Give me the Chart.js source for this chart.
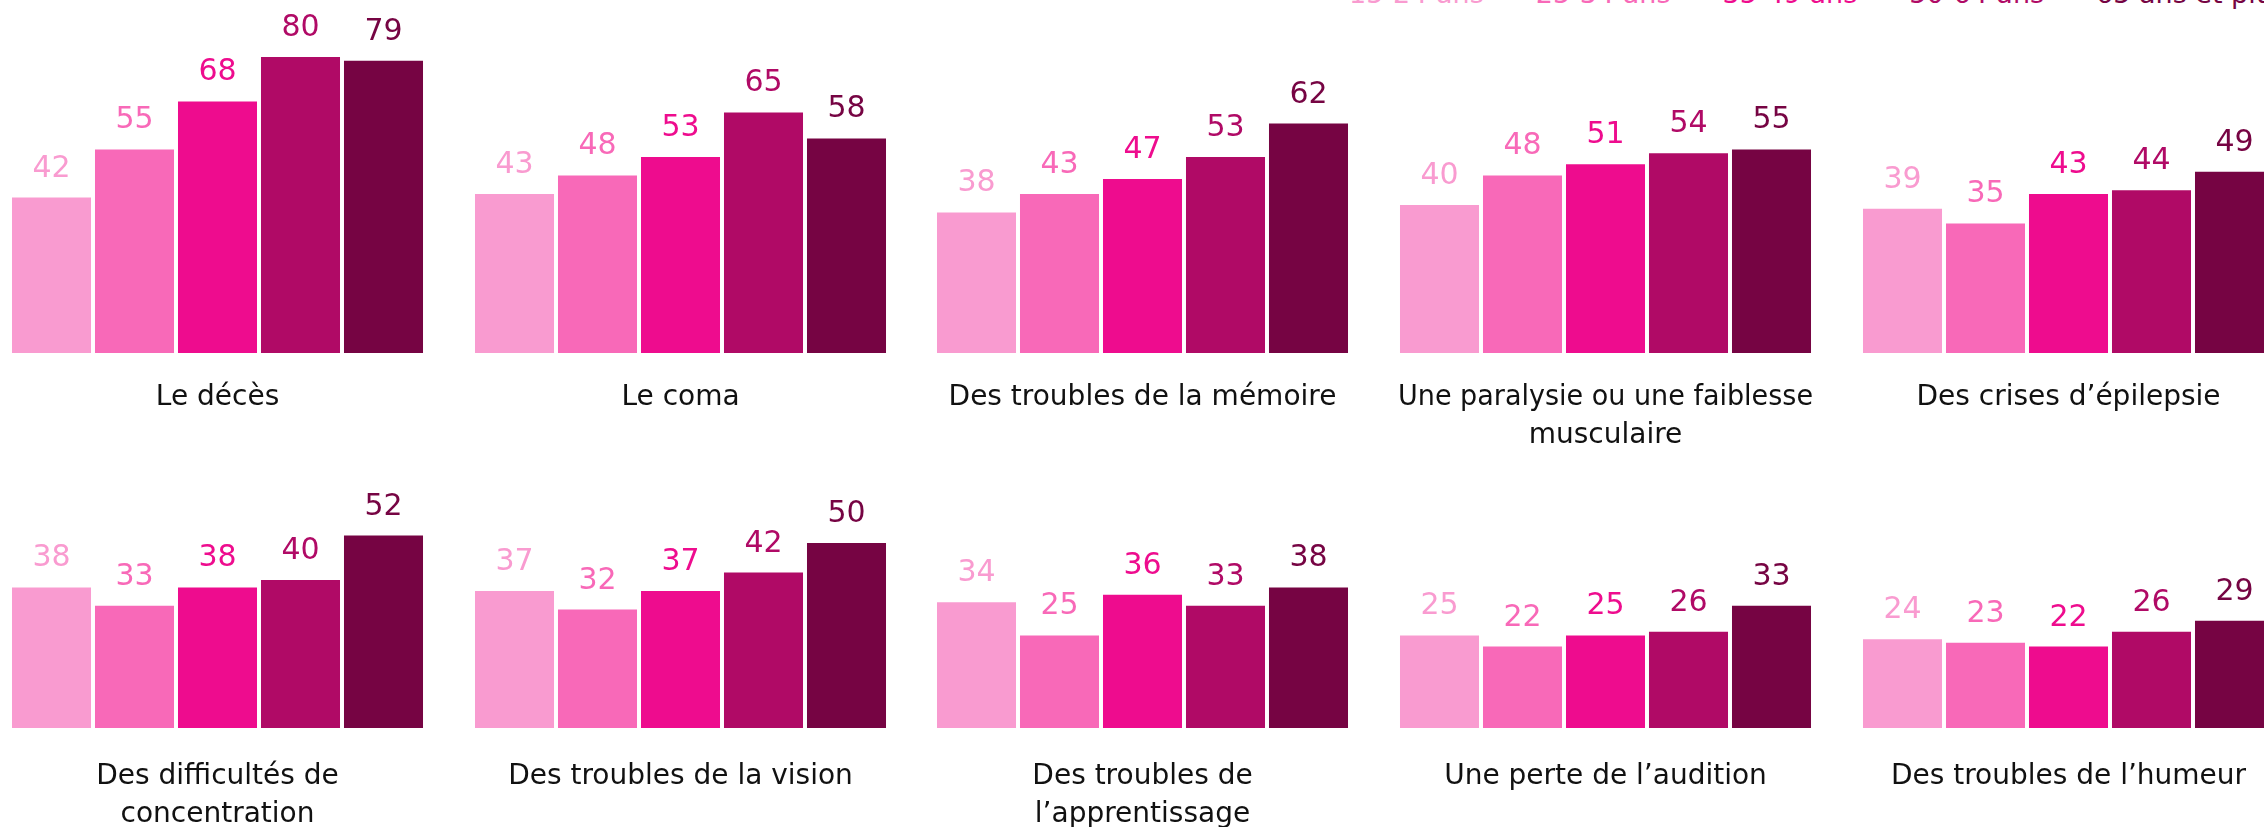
<!DOCTYPE html>
<html lang="fr">
<head>
<meta charset="utf-8">
<script src="https://cdn.jsdelivr.net/npm/chart.js@4.4.1/dist/chart.umd.min.js"></script>
<style>
    html, body { margin: 0; padding: 0; background: #fff; }
    body { width: 2264px; height: 827px; overflow: hidden; position: relative; font-family: "DejaVu Sans", sans-serif; }
    canvas { position: absolute; }
    #legend { position: absolute; left: 1349px; top: -20px; display: flex; gap: 52px; font-size: 27px; line-height: 28px; white-space: nowrap; }
</style>
</head>
<body>
<div id="legend"></div>
<script>
// Age groups (series) and their colours
const ageGroups = ['15-24 ans', '25-34 ans', '35-49 ans', '50-64 ans', '65 ans et plus'];
const ageColors = ['#F99BD0', '#F869B8', '#EE0C8E', '#B00A66', '#760443'];

// One small chart per category, two lines max for the title
const categories = [
    ['Le décès'],
    ['Le coma'],
    ['Des troubles de la mémoire'],
    ['Une paralysie ou une faiblesse', 'musculaire'],
    ['Des crises d’épilepsie'],
    ['Des difficultés de', 'concentration'],
    ['Des troubles de la vision'],
    ['Des troubles de', 'l’apprentissage'],
    ['Une perte de l’audition'],
    ['Des troubles de l’humeur']
];

// Values (%) by age group, in category order
const age15to24 = [42, 43, 38, 40, 39, 38, 37, 34, 25, 24];
const age25to34 = [55, 48, 43, 48, 35, 33, 32, 25, 22, 23];
const age35to49 = [68, 53, 47, 51, 43, 38, 37, 36, 25, 22];
const age50to64 = [80, 65, 53, 54, 44, 40, 42, 33, 26, 26];
const age65plus = [79, 58, 62, 55, 49, 52, 50, 38, 33, 29];

const seriesByAge = [age15to24, age25to34, age35to49, age50to64, age65plus];

// Legend (the top of it is cut off in the original)
const legend = document.getElementById('legend');
ageGroups.forEach((g, i) => {
    const span = document.createElement('span');
    span.textContent = g;
    span.style.color = ageColors[i];
    legend.appendChild(span);
});

// Draw the value above each bar
const valueLabels = {
    id: 'valueLabels',
    afterDatasetsDraw(chart) {
        const ctx = chart.ctx;
        const meta = chart.getDatasetMeta(0);
        ctx.save();
        ctx.font = '30px "DejaVu Sans"';
        ctx.textAlign = 'center';
        ctx.textBaseline = 'alphabetic';
        meta.data.forEach((bar, i) => {
            ctx.fillStyle = ageColors[i];
            ctx.fillText(chart.data.datasets[0].data[i], bar.x, bar.y - 21);
        });
        ctx.restore();
    }
};

const panelStep = 462.7;
const rows = [
    { top: 0, titlePad: 26 },
    { top: 375, titlePad: 30 }
];
const lineH = 28 * 1.34;

categories.forEach((title, c) => {
    const row = rows[Math.floor(c / 5)];
    const col = c % 5;
    const canvas = document.createElement('canvas');
    const w = 467;
    const h = Math.round(20 + 333 + 2 * lineH + row.titlePad + 4);
    canvas.width = w;
    canvas.height = h;
    canvas.style.left = (12 + col * panelStep - 2 - 26) + 'px';
    canvas.style.top = row.top + 'px';
    document.body.appendChild(canvas);

    const titleLines = title.length === 2 ? title : [title[0], ''];

    new Chart(canvas.getContext('2d'), {
        type: 'bar',
        data: {
            labels: ageGroups,
            datasets: [{
                data: seriesByAge.map(s => s[c]),
                backgroundColor: ageColors,
                borderWidth: 0,
                barPercentage: 0.952,
                categoryPercentage: 1
            }]
        },
        options: {
            responsive: false,
            animation: false,
            layout: { padding: { left: 26, right: 26, top: 20, bottom: 4 } },
            plugins: {
                legend: { display: false },
                tooltip: { enabled: false }
            },
            scales: {
                x: {
                    grid: { display: false, drawTicks: false },
                    border: { display: false },
                    ticks: { display: false },
                    title: {
                        display: true,
                        text: titleLines,
                        color: '#111',
                        font: { family: 'DejaVu Sans', size: 28, lineHeight: 1.34 },
                        padding: { top: row.titlePad, bottom: 0 }
                    }
                },
                y: {
                    display: false,
                    min: 0,
                    max: 90
                }
            }
        },
        plugins: [valueLabels]
    });
});
</script>
</body>
</html>
